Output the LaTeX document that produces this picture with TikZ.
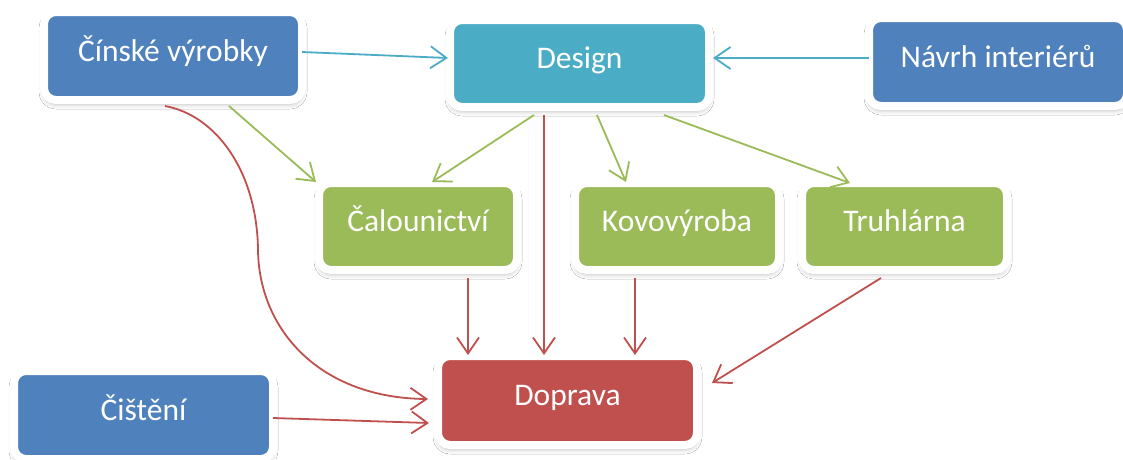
\documentclass[tikz,border=0pt]{standalone}
\usepackage{fontspec}
\setmainfont{Carlito}
\usetikzlibrary{arrows.meta,shadows.blur}
\definecolor{cblue}{HTML}{4F81BD}
\definecolor{cteal}{HTML}{4BACC6}
\definecolor{cgreen}{HTML}{9BBB59}
\definecolor{cred}{HTML}{C0504D}
\tikzset{
  box/.style={draw=white, line width=8pt, rounded corners=12pt, text=white,
    font=\fontsize{31.5}{38}\selectfont, text height=13pt, text depth=3pt,
    inner sep=0pt, outer sep=0pt,
    blur shadow={shadow xshift=0pt, shadow yshift=-4pt, shadow blur radius=5pt, shadow opacity=30}},
  conn/.style={line width=1.8pt, -{Straight Barb[length=16pt,width=22pt,line width=1.8pt]}},
  tconn/.style={conn, draw=cteal},
  gconn/.style={conn, draw=cgreen},
  rconn/.style={conn, draw=cred}
}
\begin{document}
\begin{tikzpicture}[x=1pt,y=-1pt]
\useasboundingbox[fill=white] (0,0) rectangle (1123,459);
% nodes
\node[box, fill=cblue, minimum width=258pt, minimum height=88pt] (cin) at (173,56) {Čínské výrobky};
\node[box, fill=cteal, minimum width=259pt, minimum height=87pt] (des) at (579.5,63.5) {Design};
\node[box, fill=cblue, minimum width=258pt, minimum height=88pt] (nav) at (998,62) {Návrh interiérů};
\node[box, fill=cgreen, minimum width=198pt, minimum height=87pt] (cal) at (418,226.5) {Čalounictví};
\node[box, fill=cgreen, minimum width=204pt, minimum height=87pt] (kov) at (677,226.5) {Kovovýroba};
\node[box, fill=cgreen, minimum width=205pt, minimum height=87pt] (tru) at (904.5,226.5) {Truhlárna};
\node[box, fill=cblue, minimum width=259pt, minimum height=88pt] (cis) at (143.5,415) {Čištění};
\node[box, fill=cred, minimum width=259pt, minimum height=89pt] (dop) at (567.5,400.5) {Doprava};
% teal connectors
\draw[tconn] ([yshift=4pt]cin.east) -- ([xshift=-2pt,yshift=5.5pt]des.west);
\draw[tconn] ([yshift=4pt]nav.west) -- ([xshift=4pt,yshift=5.5pt]des.east);
% green connectors
\draw[gconn] ([xshift=56pt,yshift=-6pt]cin.south) -- ([xshift=-3pt,yshift=1pt]cal.north west);
\draw[gconn] ([xshift=-45.5pt,yshift=-8pt]des.south) -- ([xshift=14pt,yshift=1pt]cal.north);
\draw[gconn] ([xshift=17.5pt,yshift=-8pt]des.south) -- ([xshift=-51pt,yshift=1pt]kov.north);
\draw[gconn] ([xshift=84.5pt,yshift=-8pt]des.south) -- ([xshift=-54.5pt,yshift=0pt]tru.north);
% red connectors
\draw[rconn] ([xshift=-35.5pt,yshift=-8pt]des.south) -- ([xshift=-23.5pt,yshift=1pt]dop.north);
\draw[rconn] ([xshift=50pt,yshift=-8pt]cal.south) -- ([xshift=-99.5pt,yshift=1pt]dop.north);
\draw[rconn] ([xshift=-42pt,yshift=-8pt]kov.south) -- ([xshift=67.5pt,yshift=1pt]dop.north);
\draw[rconn] ([xshift=-23.5pt,yshift=-8pt]tru.south) -- ([xshift=15pt,yshift=17.5pt]dop.east);
\draw[rconn] ([xshift=-8pt,yshift=-6pt]cin.south) .. controls (215,115) and (257,170) .. (258,250)
  .. controls (259,330) and (320,398) .. ([xshift=-10pt,yshift=1.5pt]dop.west);
\draw[rconn] ([yshift=-3pt]cis.east) -- ([xshift=-9pt,yshift=-22.5pt]dop.west);
\end{tikzpicture}
\end{document}
